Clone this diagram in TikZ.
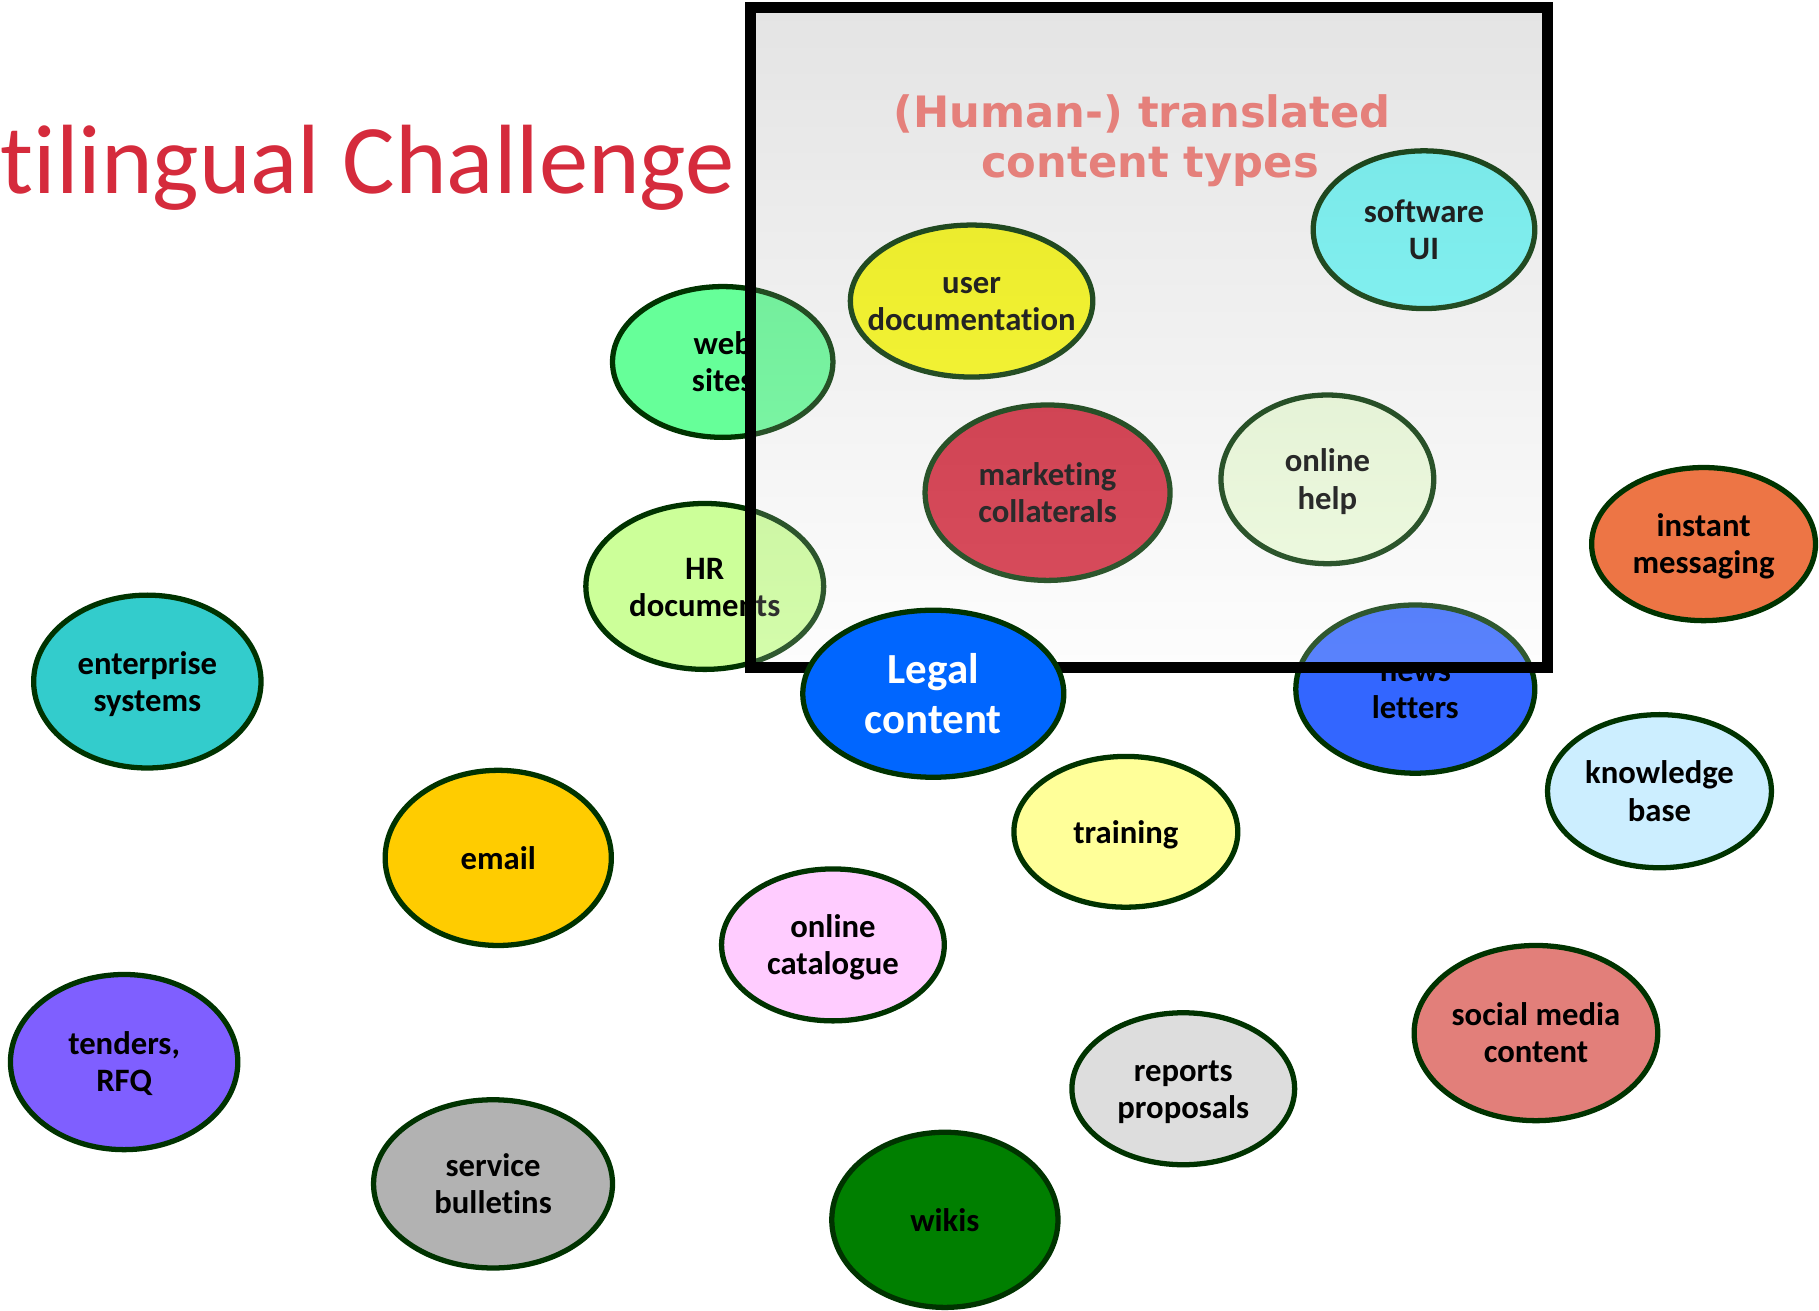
\documentclass[tikz,border=0pt]{standalone}
\usepackage{fontspec}
\setmainfont{Carlito}[Ligatures=NoCommon]
\newfontfamily\dejavu{DejaVu Sans}
\usetikzlibrary{shapes.geometric}
\definecolor{bubline}{HTML}{003300}
\definecolor{titlered}{HTML}{D52B3C}
\definecolor{subpink}{HTML}{E5807B}
\definecolor{ovtop}{HTML}{787878}
\definecolor{ovbot}{HTML}{F5F5F5}
\definecolor{cWeb}{HTML}{66FF99}
\definecolor{cHR}{HTML}{CCFF99}
\definecolor{cNews}{HTML}{3366FF}
\definecolor{cUser}{HTML}{FFFF11}
\definecolor{cSoft}{HTML}{75FFFF}
\definecolor{cMark}{HTML}{D42539}
\definecolor{cHelp}{HTML}{EFFFDD}
\definecolor{cEnt}{HTML}{33CCCC}
\definecolor{cInst}{HTML}{ED7545}
\definecolor{cKnow}{HTML}{CCEEFF}
\definecolor{cMail}{HTML}{FFCC00}
\definecolor{cTrain}{HTML}{FFFF99}
\definecolor{cCat}{HTML}{FFCCFF}
\definecolor{cTend}{HTML}{7F5FFF}
\definecolor{cRep}{HTML}{DDDDDD}
\definecolor{cSoc}{HTML}{E27F7A}
\definecolor{cServ}{HTML}{B2B2B2}
\definecolor{cWiki}{HTML}{007F00}
\definecolor{cLegal}{HTML}{0066FF}
\newcommand\ls{\rule[-2.1pt]{0pt}{10.6pt}}
\newcommand\lsL{\rule[-2.8pt]{0pt}{14.1pt}}
\tikzset{
  bub/.style={ellipse, draw=bubline, line width=1.5pt, inner sep=0pt, outer sep=0pt},
  bubtxt/.style={align=center, inner sep=0pt, font=\fontsize{9.3pt}{10.6pt}\selectfont\bfseries},
  legaltxt/.style={align=center, inner sep=0pt, text=white, font=\fontsize{12.2pt}{14.1pt}\selectfont\bfseries},
  boxline/.style={draw=black, line width=3.3pt},
  subtxt/.style={anchor=base, inner sep=0pt, text=subpink, font=\dejavu\bfseries\fontsize{12.3pt}{12.2pt}\selectfont},
}
\newcommand\bubble[7]{%
  \node[bub, fill=#6, minimum width=#4*0.0232cm, minimum height=#5*0.0232cm] (#1) at (#2,#3) {};
  \node[bubtxt] (#1-t) at (#1.center) {#7};
}
\begin{document}
\begin{tikzpicture}[x=0.0116cm, y=-0.0116cm]
\useasboundingbox (0,0) rectangle (1568,1130);
% bubbles partly or wholly under the translucent box
\bubble{web}{623}{312}{95}{65}{cWeb}{\ls web\\\ls sites}
\bubble{hr}{607.5}{505.5}{102.5}{71.5}{cHR}{\ls HR\\\ls documents}
\bubble{news}{1220}{594}{103}{72.5}{cNews}{\ls news\\\ls letters}
\bubble{userdoc}{837.5}{259.5}{104.5}{65.5}{cUser}{\ls user\\\ls documentation}
\bubble{soft}{1227.5}{198}{95.5}{68}{cSoft}{\ls software\\\ls UI}
\bubble{mark}{903}{424.7}{105.6}{75.6}{cMark}{\ls marketing\\\ls collaterals}
\bubble{help}{1144.2}{413.2}{91.7}{72.7}{cHelp}{\ls online\\\ls help}
% translucent box
\shade[top color=ovtop, bottom color=ovbot, fill opacity=0.2] (647,6.5) rectangle (1334,575.5);
\draw[boxline] (647,6.5) rectangle (1334,575.5);
% other bubbles
\bubble{ent}{127}{587.5}{98}{74.5}{cEnt}{\ls enterprise\\\ls systems}
\bubble{inst}{1468.5}{469}{96.5}{66}{cInst}{\ls instant\\\ls messaging}
\bubble{know}{1430.5}{682}{96.5}{66}{cKnow}{\ls knowledge\\\ls base}
\bubble{mail}{429.5}{739.5}{97.5}{75.5}{cMail}{\ls email}
\bubble{train}{970.5}{717}{96.5}{65}{cTrain}{\ls training}
\bubble{cat}{718}{814.5}{96}{65.5}{cCat}{\ls online\\\ls catalogue}
\bubble{tend}{107}{915.5}{98}{75.5}{cTend}{\ls tenders,\\\ls RFQ}
\bubble{rep}{1020}{938.5}{96}{65.5}{cRep}{\ls reports\\\ls proposals}
\bubble{soc}{1324}{890.5}{105}{75.5}{cSoc}{\ls social media\\\ls content}
\bubble{serv}{425}{1020.5}{103}{72.5}{cServ}{\ls service\\\ls bulletins}
\bubble{wiki}{814.5}{1051.5}{97.5}{75.5}{cWiki}{\ls wikis}
% legal content on top
\node[bub, fill=cLegal, minimum width=112.5*0.0232cm, minimum height=72*0.0232cm] (legal) at (804.5,598) {};
\node[legaltxt] (legal-t) at (legal.center) {\lsL Legal\\\lsL content};
% titles
\node[subtxt] (sub1) at (984.6,110) {(Human-) translated};
\node[subtxt] (sub2) at (991.3,153) {content types};
\node[anchor=base east, inner sep=0pt, text=titlered, font=\fontsize{28pt}{33pt}\selectfont] (title) at (634,167) {tilingual Challenge};
\end{tikzpicture}
\end{document}
